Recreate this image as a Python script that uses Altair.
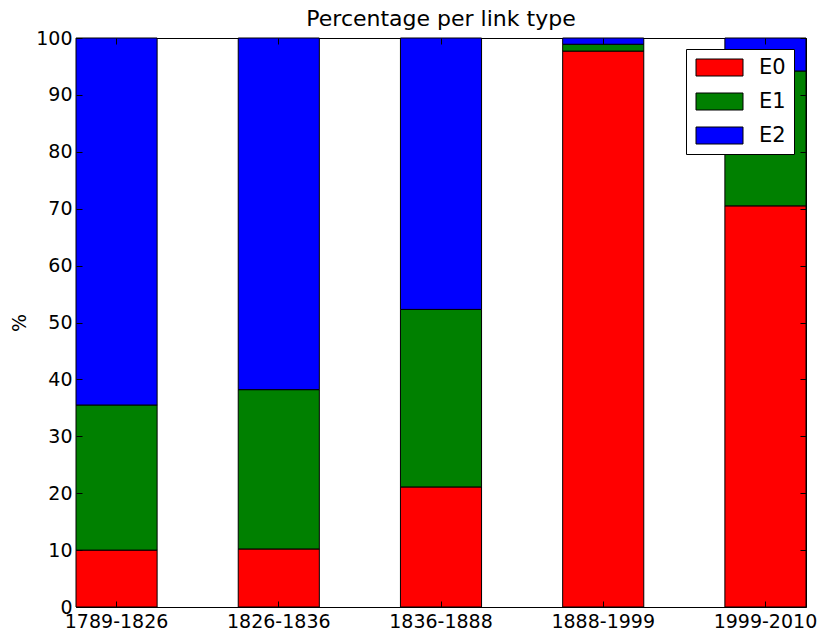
import altair as alt
import pandas as pd

# Share of each link type per period (percent, each period sums to 100)
periods = ["1789-1826", "1826-1836", "1836-1888", "1888-1999", "1999-2010"]
e0 = [10.0, 10.2, 21.1, 97.7, 70.5]
e1 = [25.5, 28.0, 31.2, 1.2, 23.7]
e2 = [64.5, 61.8, 47.7, 1.1, 5.8]
link_types = ["E0", "E1", "E2"]
colors = ["#ff0000", "#008000", "#0000ff"]
y_ticks = list(range(0, 101, 10))

rows = []
for i, p in enumerate(periods):
    for k, (t, vals) in enumerate(zip(link_types, [e0, e1, e2])):
        rows.append({"period": p, "type": t, "value": vals[i], "order": k})
df = pd.DataFrame(rows)

FONT = "DejaVu Sans"
inward = alt.ExprRef(expr="-6")


def xscale():
    return alt.Scale(domain=periods, paddingInner=0.5, paddingOuter=0)


def yscale():
    return alt.Scale(domain=[0, 100], nice=False, zero=True)


bars = alt.Chart(df).mark_bar(stroke="black", strokeWidth=1).encode(
    x=alt.X("period:N", sort=periods, scale=xscale(),
            axis=alt.Axis(title=None, labelAngle=0, tickSize=inward,
                          labelPadding=11, domain=False, zindex=1)),
    y=alt.Y("value:Q", stack="zero", scale=yscale(),
            axis=alt.Axis(values=y_ticks, title="%", tickSize=inward,
                          labelPadding=10, domain=False, zindex=1,
                          titleFontSize=19, titleFont=FONT,
                          titleFontWeight="normal", titleColor="black",
                          titlePadding=6)),
    color=alt.Color("type:N",
                    scale=alt.Scale(domain=link_types, range=colors),
                    legend=alt.Legend(
                        title=None, orient="none", legendX=610, legendY=11,
                        symbolType="M-1,-1L4.53,-1L4.53,1L-1,1Z",
                        symbolSize=289, symbolStrokeColor="black",
                        symbolStrokeWidth=1, symbolOpacity=1,
                        labelFontSize=21, labelFont=FONT, labelColor="black",
                        labelOffset=44, rowPadding=12, padding=8,
                        fillColor="white", strokeColor="black")),
    order=alt.Order("order:Q"),
)

# Invisible copy carrying the tick marks on the top and right edges
frame = alt.Chart(df).mark_bar(opacity=0).encode(
    x=alt.X("period:N", sort=periods, scale=xscale(),
            axis=alt.Axis(orient="top", title=None, labels=False,
                          tickSize=inward, domain=False, zindex=1)),
    y=alt.Y("value:Q", stack="zero", scale=yscale(),
            axis=alt.Axis(orient="right", values=y_ticks, title=None,
                          labels=False, tickSize=inward, domain=False,
                          zindex=1)),
    detail="type:N",
    order=alt.Order("order:Q"),
)

chart = alt.layer(bars, frame).resolve_scale(
    x="independent", y="independent"
).properties(
    width=730,
    height=569,
    title=alt.Title("Percentage per link type", fontSize=22,
                    fontWeight="normal", font=FONT, color="black", offset=-2),
    autosize=alt.AutoSizeParams(type="none"),
    padding={"left": 76, "top": 38, "right": 14, "bottom": 27},
).configure_view(
    stroke="black", strokeWidth=1
).configure_axis(
    labelFont=FONT, labelFontSize=19, labelColor="black",
    tickColor="black", tickWidth=1, grid=False
)

chart.save("out.html", embed_options={"renderer": "svg", "actions": False})
